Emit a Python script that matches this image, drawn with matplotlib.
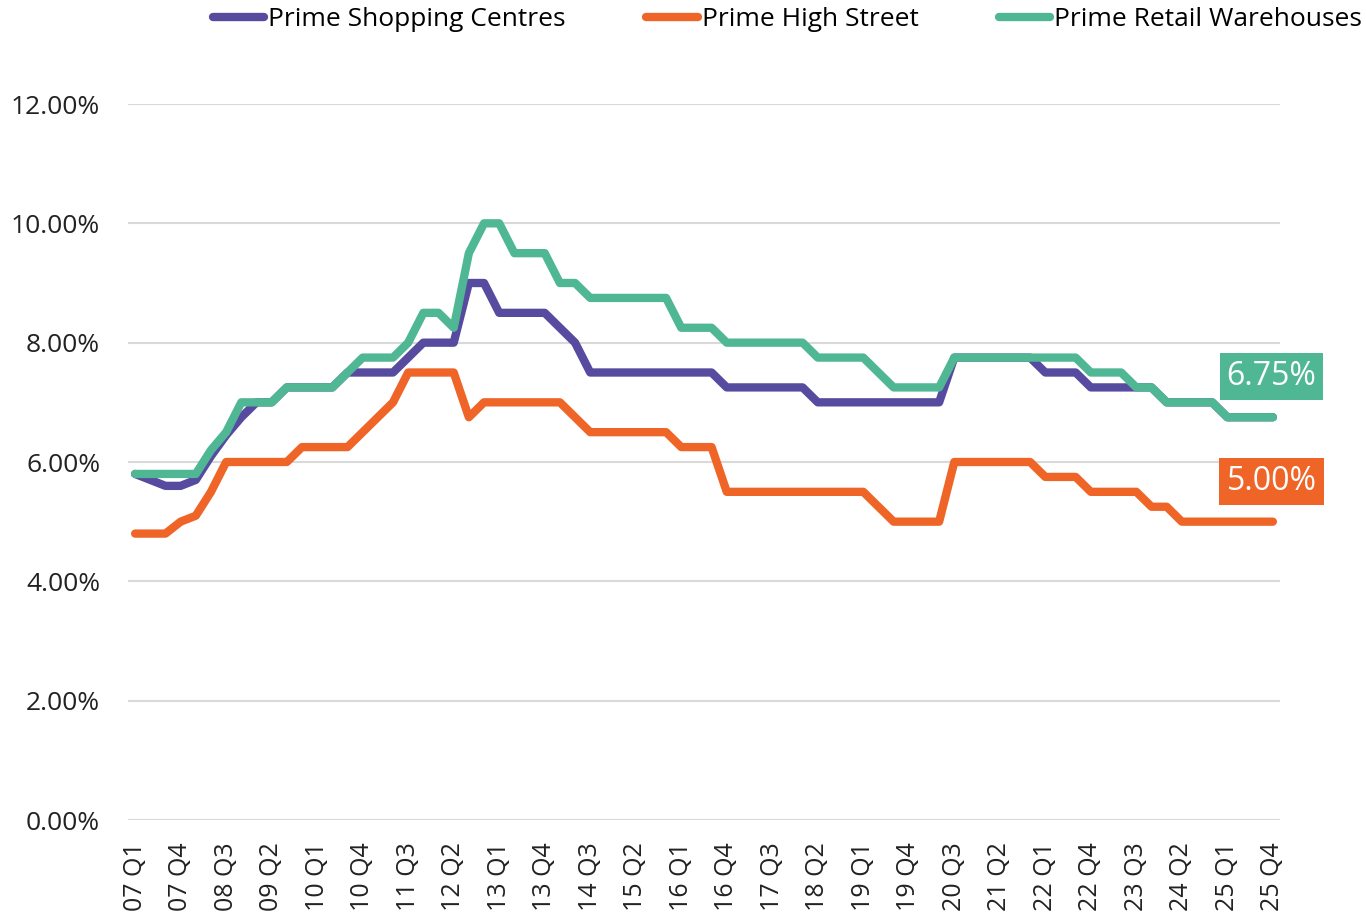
import matplotlib
matplotlib.use('Agg')
import matplotlib.pyplot as plt
from matplotlib.ticker import FuncFormatter

plt.rcParams['font.family'] = ['Open Sans', 'DejaVu Sans']

# quarters 07 Q1 .. 25 Q4
quarters = ['%02d Q%d' % (y, q) for y in range(7, 26) for q in range(1, 5)]

shopping_centres = [5.8, 5.7, 5.6, 5.6, 5.7, 6.1, 6.45, 6.75, 7.0, 7.0,
                    7.25, 7.25, 7.25, 7.25, 7.5, 7.5, 7.5, 7.5, 7.75, 8.0,
                    8.0, 8.0, 9.0, 9.0, 8.5, 8.5, 8.5, 8.5, 8.25, 8.0,
                    7.5, 7.5, 7.5, 7.5, 7.5, 7.5, 7.5, 7.5, 7.5, 7.25,
                    7.25, 7.25, 7.25, 7.25, 7.25, 7.0, 7.0, 7.0, 7.0, 7.0,
                    7.0, 7.0, 7.0, 7.0, 7.75, 7.75, 7.75, 7.75, 7.75, 7.75,
                    7.5, 7.5, 7.5, 7.25, 7.25, 7.25, 7.25, 7.25, 7.0, 7.0,
                    7.0, 7.0, 6.75, 6.75, 6.75, 6.75]

high_street = [4.8, 4.8, 4.8, 5.0, 5.1, 5.5, 6.0, 6.0, 6.0, 6.0,
               6.0, 6.25, 6.25, 6.25, 6.25, 6.5, 6.75, 7.0, 7.5, 7.5,
               7.5, 7.5, 6.75, 7.0, 7.0, 7.0, 7.0, 7.0, 7.0, 6.75,
               6.5, 6.5, 6.5, 6.5, 6.5, 6.5, 6.25, 6.25, 6.25, 5.5,
               5.5, 5.5, 5.5, 5.5, 5.5, 5.5, 5.5, 5.5, 5.5, 5.25,
               5.0, 5.0, 5.0, 5.0, 6.0, 6.0, 6.0, 6.0, 6.0, 6.0,
               5.75, 5.75, 5.75, 5.5, 5.5, 5.5, 5.5, 5.25, 5.25, 5.0,
               5.0, 5.0, 5.0, 5.0, 5.0, 5.0]

retail_warehouses = [5.8, 5.8, 5.8, 5.8, 5.8, 6.2, 6.5, 7.0, 7.0, 7.0,
                     7.25, 7.25, 7.25, 7.25, 7.5, 7.75, 7.75, 7.75, 8.0, 8.5,
                     8.5, 8.25, 9.5, 10.0, 10.0, 9.5, 9.5, 9.5, 9.0, 9.0,
                     8.75, 8.75, 8.75, 8.75, 8.75, 8.75, 8.25, 8.25, 8.25, 8.0,
                     8.0, 8.0, 8.0, 8.0, 8.0, 7.75, 7.75, 7.75, 7.75, 7.5,
                     7.25, 7.25, 7.25, 7.25, 7.75, 7.75, 7.75, 7.75, 7.75, 7.75,
                     7.75, 7.75, 7.75, 7.5, 7.5, 7.5, 7.25, 7.25, 7.0, 7.0,
                     7.0, 7.0, 6.75, 6.75, 6.75, 6.75]

purple = '#574B9F'
orange = '#EF6528'
teal = '#50B794'

fig = plt.figure(figsize=(13.66, 9.17), dpi=100)
ax = fig.add_axes([128 / 1366, 1 - 820 / 917, 1152 / 1366, 716 / 917])

x = list(range(len(quarters)))
kw = dict(lw=6, solid_capstyle='round', solid_joinstyle='round')
ax.plot(x, shopping_centres, color=purple, label='Prime Shopping Centres', **kw)
ax.plot(x, high_street, color=orange, label='Prime High Street', **kw)
ax.plot(x, retail_warehouses, color=teal, label='Prime Retail Warehouses', **kw)

ax.set_xlim(-0.47, len(quarters) - 0.53)
ax.set_ylim(0, 12)
ax.set_yticks([0, 2, 4, 6, 8, 10, 12])
ax.yaxis.set_major_formatter(FuncFormatter(lambda v, p: '%.2f%%' % v))
ax.set_xticks(x[::3])
ax.set_xticklabels(quarters[::3], rotation=90)
ax.tick_params(axis='both', length=0, labelcolor='#222222')
ax.tick_params(axis='y', pad=20, labelsize=19)
ax.tick_params(axis='x', pad=16, labelsize=18)
ax.grid(axis='y', color='#D9D9D9', lw=1.5)
ax.set_axisbelow(True)
for s in ax.spines.values():
    s.set_visible(False)

# end labels
for series, col in [(retail_warehouses, teal), (high_street, orange)]:
    ax.annotate('%.2f%%' % series[-1], (x[-1], series[-1]), xytext=(-1, 29),
                textcoords='offset points', ha='center', va='center',
                fontsize=23, color='white',
                bbox=dict(boxstyle='square,pad=0.22', fc=col, ec='none'))

leg = fig.legend(loc='upper right', bbox_to_anchor=(1.005, 1.004), ncol=3,
                 frameon=False, fontsize=19, handlelength=1.95,
                 handletextpad=0.15, columnspacing=3.05, borderaxespad=0)
for h in leg.get_lines():
    h.set_linewidth(6)
    h.set_solid_capstyle('round')

fig.savefig('out.png', dpi=100)
